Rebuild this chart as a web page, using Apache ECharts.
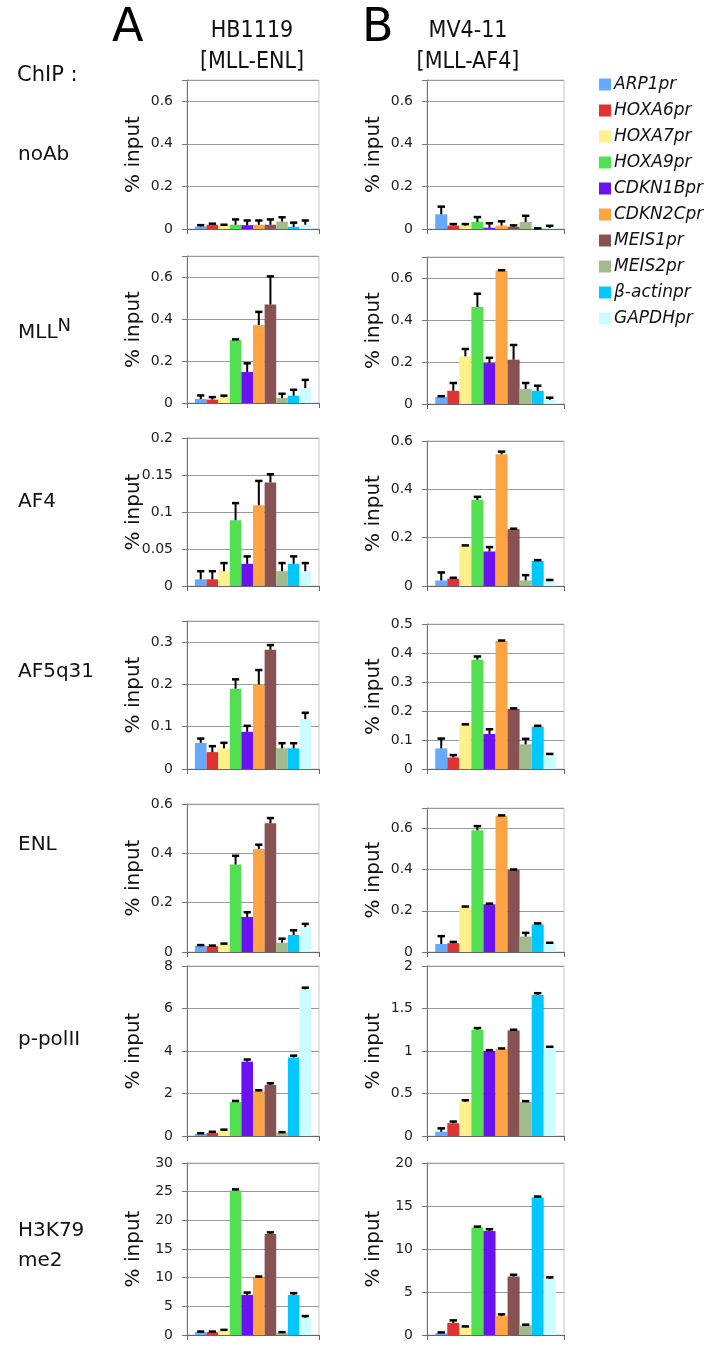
<!DOCTYPE html>
<html><head><meta charset="utf-8">
<script src="https://cdn.jsdelivr.net/npm/echarts@6/dist/echarts.min.js"></script>
<style>html,body{margin:0;padding:0;background:#fff}#c{width:711px;height:1347px}</style>
</head><body><div id="c"></div>
<script>
const genes = ['ARP1pr','HOXA6pr','HOXA7pr','HOXA9pr','CDKN1Bpr','CDKN2Cpr','MEIS1pr','MEIS2pr','β-actinpr','GAPDHpr'];
const colors = ['#66aaff','#e03232','#fff08c','#52e052','#6a12f2','#ffa444','#885252','#a2bb8c','#00c8ff','#ccfcff'];
const cellLines = ['HB1119\n[MLL-ENL]','MV4-11\n[MLL-AF4]'];
const chipNames = ['noAb','MLLN','AF4','AF5q31','ENL','p-polII','H3K79\nme2'];
const yTitle = '% input';

// HB1119 (column A): values and upward error (SD)
const hb_noAb = [0.012,0.02,0.015,0.02,0.018,0.02,0.02,0.035,0.01,0.02];
const hb_noAb_err = [0.006,0.005,0.005,0.025,0.022,0.02,0.025,0.02,0.02,0.02];
const hb_MLLN = [0.019,0.016,0.027,0.3,0.148,0.371,0.469,0.024,0.035,0.071];
const hb_MLLN_err = [0.017,0.012,0.008,0.003,0.041,0.063,0.134,0.02,0.028,0.039];
const hb_AF4 = [0.009,0.009,0.02,0.089,0.03,0.109,0.14,0.02,0.03,0.02];
const hb_AF4_err = [0.011,0.011,0.011,0.023,0.01,0.033,0.011,0.011,0.01,0.011];
const hb_AF5q31 = [0.062,0.04,0.049,0.19,0.088,0.2,0.282,0.049,0.049,0.118];
const hb_AF5q31_err = [0.01,0.014,0.013,0.022,0.014,0.034,0.011,0.012,0.012,0.015];
const hb_ENL = [0.026,0.024,0.031,0.355,0.142,0.418,0.522,0.038,0.069,0.101];
const hb_ENL_err = [0.002,0.002,0.003,0.035,0.019,0.017,0.021,0.016,0.019,0.013];
const hb_pPolII = [0.1,0.15,0.25,1.6,3.5,2.1,2.4,0.15,3.7,6.9];
const hb_pPolII_err = [0.03,0.05,0.05,0.05,0.1,0.05,0.08,0.03,0.08,0.08];
const hb_H3K79 = [0.5,0.5,0.8,25.2,7,10,17.6,0.4,7,3];
const hb_H3K79_err = [0.1,0.1,0.1,0.2,0.4,0.2,0.3,0.1,0.3,0.3];

// MV4-11 (column B)
const mv_noAb = [0.069,0.016,0.016,0.033,0.006,0.016,0.01,0.033,0.001,0.005];
const mv_noAb_err = [0.036,0.007,0.007,0.023,0.021,0.02,0.007,0.029,0.002,0.01];
const mv_MLLN = [0.033,0.063,0.227,0.462,0.195,0.635,0.211,0.071,0.063,0.02];
const mv_MLLN_err = [0.004,0.037,0.035,0.063,0.025,0.002,0.07,0.029,0.024,0.01];
const mv_AF4 = [0.023,0.03,0.166,0.356,0.143,0.545,0.235,0.023,0.104,0.02];
const mv_AF4_err = [0.033,0.004,0.002,0.013,0.018,0.011,0.002,0.022,0.003,0.005];
const mv_AF5q31 = [0.071,0.04,0.152,0.377,0.121,0.441,0.207,0.085,0.146,0.05];
const mv_AF5q31_err = [0.034,0.008,0.002,0.011,0.016,0.002,0.002,0.019,0.003,0.002];
const mv_ENL = [0.039,0.043,0.216,0.592,0.232,0.662,0.399,0.075,0.134,0.04];
const mv_ENL_err = [0.038,0.006,0.005,0.02,0.003,0.002,0.002,0.018,0.005,0.005];
const mv_pPolII = [0.05,0.15,0.4,1.25,1.0,1.02,1.24,0.4,1.66,1.04];
const mv_pPolII_err = [0.04,0.02,0.02,0.02,0.01,0.01,0.01,0.01,0.02,0.01];
const mv_H3K79 = [0.2,1.4,0.9,12.5,12.1,2.2,6.8,1.1,16,6.5];
const mv_H3K79_err = [0.1,0.3,0.1,0.1,0.2,0.2,0.2,0.1,0.1,0.2];

// y-axis ranges: [max, interval]
const hbAxes = [[0.7,0.2],[0.7,0.2],[0.2,0.05],[0.35,0.1],[0.6,0.2],[8,2],[30,5]];
const mvAxes = [[0.7,0.2],[0.7,0.2],[0.6,0.2],[0.5,0.1],[0.7,0.2],[2,0.5],[20,5]];

const hbData = [[hb_noAb,hb_noAb_err],[hb_MLLN,hb_MLLN_err],[hb_AF4,hb_AF4_err],[hb_AF5q31,hb_AF5q31_err],[hb_ENL,hb_ENL_err],[hb_pPolII,hb_pPolII_err],[hb_H3K79,hb_H3K79_err]];
const mvData = [[mv_noAb,mv_noAb_err],[mv_MLLN,mv_MLLN_err],[mv_AF4,mv_AF4_err],[mv_AF5q31,mv_AF5q31_err],[mv_ENL,mv_ENL_err],[mv_pPolII,mv_pPolII_err],[mv_H3K79,mv_H3K79_err]];

// layout (pixels)
const colX = [{x:187,w:132},{x:427,w:137}];
const titleX = [134, 374];
const rowsL = [[80,229],[256,403],[438,586],[621,769],[804,952],[966,1136],[1163,1335]];
const rowsR = [[80,229],[257,404],[441,586],[624,769],[808,952],[966,1136],[1163,1335]];
const rowLabelY = [155,333,502,672,845,1040,1246];

const FONT = 'DejaVu Sans';
const grids = [], xAxes = [], yAxes = [], series = [], graphics = [];
const CAT_GAP = 0.12;

function addPanel(col, r, data, ax) {
  const rows = col === 0 ? rowsL : rowsR;
  const gi = grids.length;
  grids.push({left: colX[col].x, width: colX[col].w, top: rows[r][0], height: rows[r][1]-rows[r][0],
    show: true, borderColor: '#c8c8c8', borderWidth: 1, backgroundColor: '#fff'});
  xAxes.push({type:'category', gridIndex: gi, data:['x'],
    axisLine:{show:true, lineStyle:{color:'#666', width:1}},
    axisTick:{show:true, length:5, lineStyle:{color:'#666'}},
    axisLabel:{show:false}});
  const max = ax[0], interval = ax[1];
  yAxes.push({type:'value', gridIndex: gi, min:0, max:max, interval:interval,
    axisLine:{show:true, lineStyle:{color:'#777'}},
    axisTick:{show:true, length:5, lineStyle:{color:'#777'}},
    splitLine:{show:true, lineStyle:{color:'#999', width:1}},
    axisLabel:{fontFamily:FONT, fontSize:14, color:'#222', margin:14,
      formatter: v => { const k = v/interval; return Math.abs(k-Math.round(k))<1e-6 ? String(+v.toFixed(4)) : ''; }}});
  graphics.push({type:'text', x: titleX[col], y:(rows[r][0]+rows[r][1])/2, rotation: Math.PI/2,
    style:{text:yTitle, font:'20px "'+FONT+'"', fill:'#111', align:'center', verticalAlign:'middle'}});
  const vals = data[0], errs = data[1];
  genes.forEach((g,i) => {
    series.push({type:'bar', name:g, xAxisIndex:gi, yAxisIndex:gi, barGap:'0%', barCategoryGap:(CAT_GAP*100)+'%',
      itemStyle:{color:colors[i]}, data:[vals[i]], silent:true, animation:false});
  });
  series.push({type:'custom', name:'err', xAxisIndex:gi, yAxisIndex:gi, z:5, animation:false, silent:true,
    data: vals.map((v,i) => [0, v, errs[i], i]),
    renderItem: (params, api) => {
      const v = api.value(1), e = api.value(2), idx = api.value(3);
      const base = api.coord([0, v]);
      const top = api.coord([0, v+e]);
      const band = api.size([1,0])[0];
      const inner = band*(1-CAT_GAP);
      const bw = inner/10;
      const cx = base[0] - inner/2 + (idx+0.5)*bw;
      const capW = bw*0.62;
      return {type:'group', children:[
        {type:'line', shape:{x1:cx, y1:base[1], x2:cx, y2:top[1]}, style:{stroke:'#000', lineWidth:2}},
        {type:'line', shape:{x1:cx-capW/2, y1:top[1], x2:cx+capW/2, y2:top[1]}, style:{stroke:'#000', lineWidth:2.5}}
      ]};
    }});
}

for (let r = 0; r < 7; r++) {
  addPanel(0, r, hbData[r], hbAxes[r]);
  addPanel(1, r, mvData[r], mvAxes[r]);
}

graphics.push(
  {type:'text', left:112, top:6, style:{text:'A', font:'46px "'+FONT+'"', fill:'#000'}},
  {type:'text', left:362, top:6, style:{text:'B', font:'46px "'+FONT+'"', fill:'#000'}},
  {type:'text', x:252, y:16, style:{text:cellLines[0], font:'23px "DejaVu Sans Condensed","'+FONT+'"', fill:'#111', align:'center', lineHeight:31}},
  {type:'text', x:468, y:16, style:{text:cellLines[1], font:'23px "DejaVu Sans Condensed","'+FONT+'"', fill:'#111', align:'center', lineHeight:31}},
  {type:'text', x:17, y:76, style:{text:'ChIP :', font:'21px "'+FONT+'"', fill:'#111', verticalAlign:'middle'}}
);
chipNames.forEach((n,i) => {
  if (n === 'MLLN') {
    graphics.push({type:'text', x:18, y:rowLabelY[i], style:{text:'{a|MLL}{b|N}', verticalAlign:'middle',
      rich:{a:{font:'20px "'+FONT+'"', fill:'#111'}, b:{font:'18px "'+FONT+'"', fill:'#111', verticalAlign:'top', padding:[0,0,14,0]}}}});
  } else {
    graphics.push({type:'text', x:18, y:rowLabelY[i], style:{text:n, font:'20px "'+FONT+'"', fill:'#111', verticalAlign:'middle', lineHeight:30}});
  }
});

const chart = echarts.init(document.getElementById('c'), null, {renderer:'canvas'});
chart.setOption({
  animation:false,
  backgroundColor:'#fff',
  grid: grids, xAxis: xAxes, yAxis: yAxes, series: series,
  legend: {data: genes, orient:'vertical', left:599, top:76, itemWidth:12, itemHeight:12, itemGap:9,
    icon:'rect', selectedMode:false, padding:0,
    textStyle:{fontFamily:FONT, fontSize:17, fontStyle:'italic', color:'#111', padding:[0,0,0,-2]}},
  graphic: graphics
});
</script></body></html>
